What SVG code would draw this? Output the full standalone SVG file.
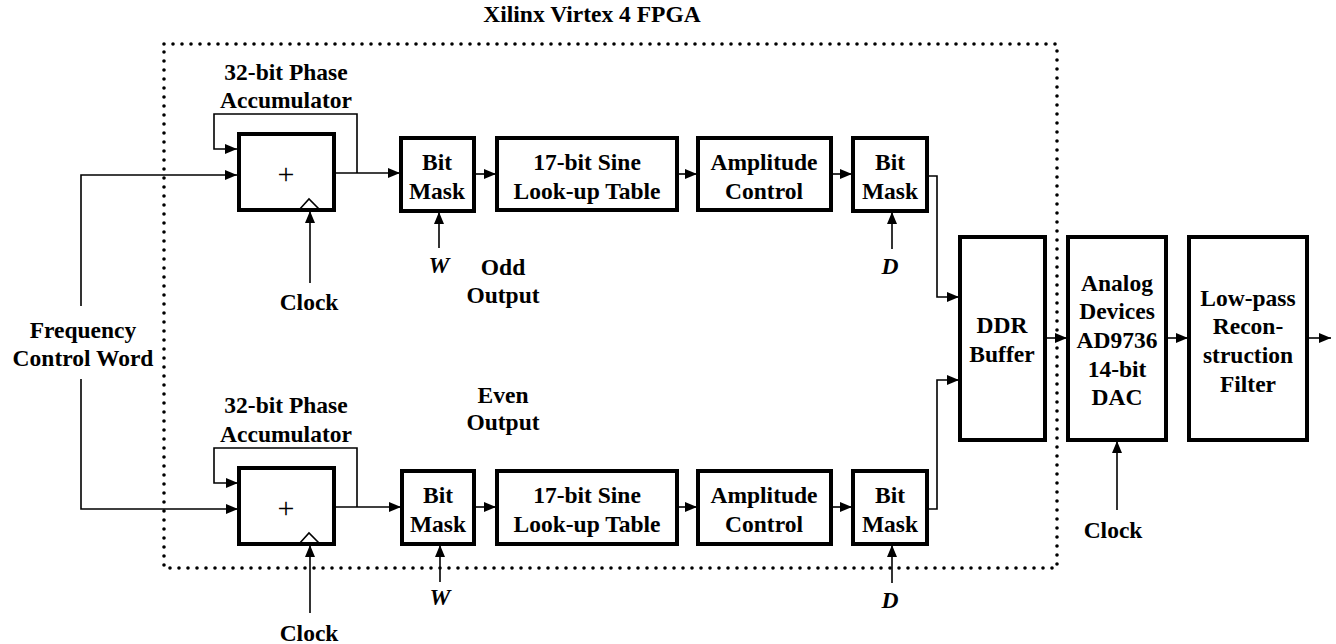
<svg xmlns="http://www.w3.org/2000/svg" width="1336" height="644" viewBox="0 0 1336 644">
<defs>
<marker id="ah" markerUnits="userSpaceOnUse" markerWidth="13" markerHeight="11" refX="12" refY="5.5" orient="auto">
<path d="M0,0.5 L12,5.5 L0,10.5 z" fill="#000"/>
</marker>
<style>
text{font-family:"Liberation Serif","Times New Roman",serif;font-weight:bold;font-size:23.5px;fill:#000;text-anchor:middle}
.it{font-style:italic}
.box{fill:#fff;stroke:#000;stroke-width:4}
.ln{fill:none;stroke:#000;stroke-width:1.6}
.dot{fill:none;stroke:#000;stroke-width:3.6;stroke-linecap:round;stroke-dasharray:0 9}
.plus{font-weight:normal;font-size:30px}
</style>
</defs>
<rect width="1336" height="644" fill="#fff"/>

<g id="fpga">
<rect class="dot" x="164" y="44" width="893" height="524"/>
<text x="592" y="22">Xilinx Virtex 4 FPGA</text>
</g>

<g id="connectors">
<path class="ln" d="M81,306 V175 H237" marker-end="url(#ah)"/>
<path class="ln" d="M81,379 V509 H238" marker-end="url(#ah)"/>
<path class="ln" d="M357,173 V114 H214 V149 H237" marker-end="url(#ah)"/>
<path class="ln" d="M334,173 H400" marker-end="url(#ah)"/>
<path class="ln" d="M474,174 H496" marker-end="url(#ah)"/>
<path class="ln" d="M677,174 H697" marker-end="url(#ah)"/>
<path class="ln" d="M831,174 H852" marker-end="url(#ah)"/>
<path class="ln" d="M927,176 H937 V297 H959" marker-end="url(#ah)"/>
<path class="ln" d="M310,283 V211" marker-end="url(#ah)"/>
<path class="ln" d="M439,248 V212" marker-end="url(#ah)"/>
<path class="ln" d="M892,249 V212" marker-end="url(#ah)"/>
<path class="ln" d="M357,507 V448 H214 V483 H238" marker-end="url(#ah)"/>
<path class="ln" d="M334,507 H401" marker-end="url(#ah)"/>
<path class="ln" d="M474,507 H496" marker-end="url(#ah)"/>
<path class="ln" d="M677,507 H697" marker-end="url(#ah)"/>
<path class="ln" d="M831,507 H852" marker-end="url(#ah)"/>
<path class="ln" d="M927,509 H937 V380 H959" marker-end="url(#ah)"/>
<path class="ln" d="M310,613 V545" marker-end="url(#ah)"/>
<path class="ln" d="M440,582 V545" marker-end="url(#ah)"/>
<path class="ln" d="M892,583 V545" marker-end="url(#ah)"/>
<path class="ln" d="M1045,338 H1067" marker-end="url(#ah)"/>
<path class="ln" d="M1166,338 H1188" marker-end="url(#ah)"/>
<path class="ln" d="M1307,338 H1331" marker-end="url(#ah)"/>
<path class="ln" d="M1117,510 V441" marker-end="url(#ah)"/>
</g>

<g id="fcw">
<text x="83" y="338">Frequency</text>
<text x="83" y="366">Control Word</text>
</g>

<g id="acc-odd">
<text x="286" y="80">32-bit Phase</text>
<text x="286" y="108">Accumulator</text>
<rect class="box" x="239" y="134" width="95" height="76"/>
<text class="plus" x="286" y="184">+</text>
<path class="ln" d="M299,210 L309,199 L320,210"/>
</g>
<g id="clock-odd"><text x="309" y="310">Clock</text></g>

<g id="mask-w-odd">
<rect class="box" x="401" y="138" width="73" height="73"/>
<text x="437" y="170">Bit</text>
<text x="437" y="199">Mask</text>
<text class="it" x="439" y="273">W</text>
</g>
<g id="lut-odd">
<rect class="box" x="497" y="138" width="180" height="72"/>
<text x="587" y="170">17-bit Sine</text>
<text x="587" y="199">Look-up Table</text>
</g>
<g id="amp-odd">
<rect class="box" x="698" y="138" width="133" height="72"/>
<text x="764" y="170">Amplitude</text>
<text x="764" y="199">Control</text>
</g>
<g id="mask-d-odd">
<rect class="box" x="853" y="138" width="74" height="73"/>
<text x="890" y="170">Bit</text>
<text x="890" y="199">Mask</text>
<text class="it" x="890" y="274">D</text>
</g>
<g id="odd-label">
<text x="503" y="275">Odd</text>
<text x="503" y="303">Output</text>
</g>

<g id="acc-even">
<text x="286" y="413">32-bit Phase</text>
<text x="286" y="442">Accumulator</text>
<rect class="box" x="239" y="468" width="95" height="76"/>
<text class="plus" x="286" y="518">+</text>
<path class="ln" d="M299,544 L309,533 L320,544"/>
</g>
<g id="clock-even"><text x="309" y="641">Clock</text></g>

<g id="mask-w-even">
<rect class="box" x="402" y="471" width="72" height="73"/>
<text x="438" y="503">Bit</text>
<text x="438" y="532">Mask</text>
<text class="it" x="440" y="605">W</text>
</g>
<g id="lut-even">
<rect class="box" x="497" y="471" width="180" height="73"/>
<text x="587" y="503">17-bit Sine</text>
<text x="587" y="532">Look-up Table</text>
</g>
<g id="amp-even">
<rect class="box" x="698" y="471" width="133" height="73"/>
<text x="764" y="503">Amplitude</text>
<text x="764" y="532">Control</text>
</g>
<g id="mask-d-even">
<rect class="box" x="853" y="471" width="74" height="73"/>
<text x="890" y="503">Bit</text>
<text x="890" y="532">Mask</text>
<text class="it" x="890" y="608">D</text>
</g>
<g id="even-label">
<text x="503" y="403">Even</text>
<text x="503" y="430">Output</text>
</g>

<g id="ddr">
<rect class="box" x="960" y="237" width="85" height="203"/>
<text x="1002" y="333">DDR</text>
<text x="1002" y="362">Buffer</text>
</g>
<g id="dac">
<rect class="box" x="1068" y="237" width="98" height="203"/>
<text x="1117" y="291">Analog</text>
<text x="1117" y="319">Devices</text>
<text x="1117" y="348">AD9736</text>
<text x="1117" y="377">14-bit</text>
<text x="1117" y="405">DAC</text>
</g>
<g id="clock-dac"><text x="1113" y="538">Clock</text></g>
<g id="filter">
<rect class="box" x="1189" y="237" width="118" height="203"/>
<text x="1248" y="306">Low-pass</text>
<text x="1248" y="334">Recon-</text>
<text x="1248" y="363">struction</text>
<text x="1248" y="392">Filter</text>
</g>
</svg>
